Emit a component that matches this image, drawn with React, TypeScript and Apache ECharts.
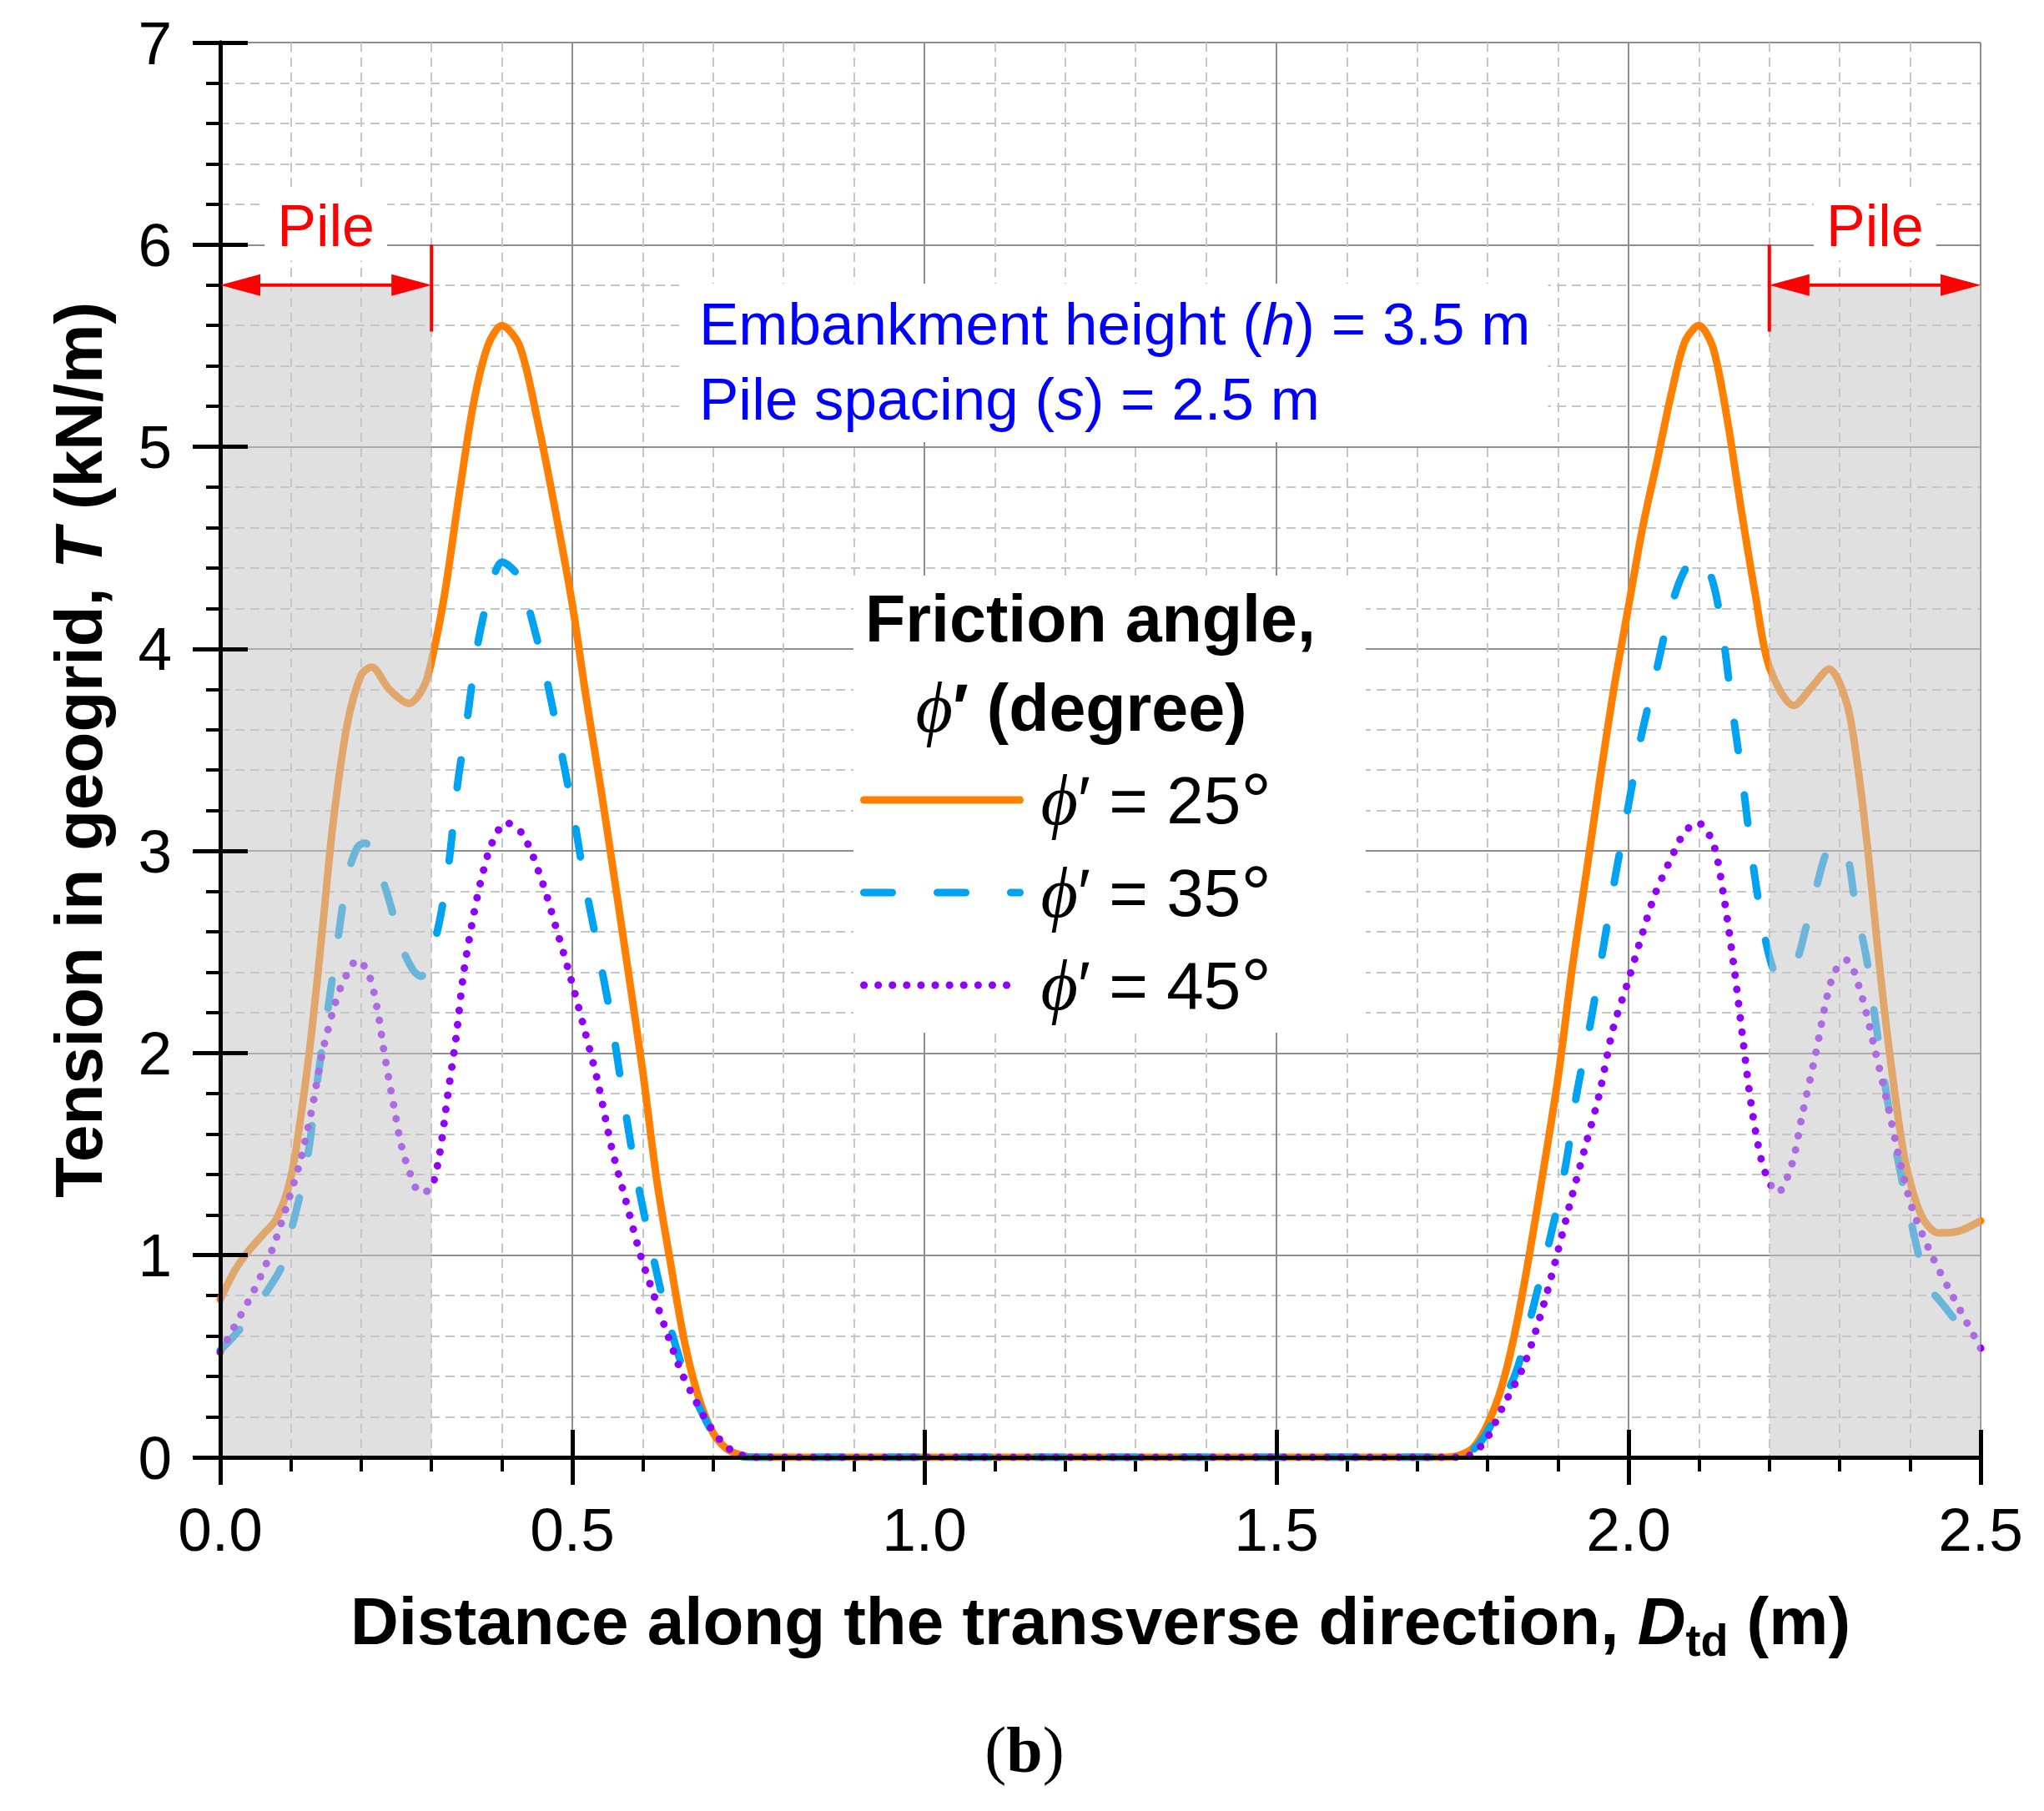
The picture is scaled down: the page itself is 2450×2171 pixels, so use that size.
import React, { useEffect, useRef } from "react";
import * as echarts from "echarts";

const SANS = '"Liberation Sans", Arial, Helvetica, sans-serif';
const SERIF = '"Liberation Serif", "Times New Roman", serif';

// ---------------- data ----------------
const X_TICK_LABELS = ["0.0", "0.5", "1.0", "1.5", "2.0", "2.5"];
const Y_TICK_LABELS = ["0", "1", "2", "3", "4", "5", "6", "7"];
const SERIES_NAMES = ["ϕ′ = 25°", "ϕ′ = 35°", "ϕ′ = 45°"];
const SERIES_COLORS = ["#ff8000", "#00a2f2", "#8f00ff"];

// phi' = 25 deg
const X25 = [0, 0.02, 0.04, 0.06, 0.08, 0.1, 0.115, 0.13, 0.145, 0.16, 0.18, 0.2, 0.215, 0.24, 0.268, 0.29, 0.305, 0.32, 0.34, 0.36, 0.38, 0.4, 0.425, 0.45, 0.475, 0.5, 0.52, 0.54, 0.56, 0.58, 0.6, 0.62, 0.64, 0.66, 0.68, 0.7, 0.72, 0.74, 0.76, 1.0, 1.25, 1.5, 1.74, 1.76, 1.78, 1.8, 1.82, 1.84, 1.86, 1.88, 1.9, 1.92, 1.94, 1.96, 1.98, 2.0, 2.02, 2.04, 2.06, 2.08, 2.1, 2.12, 2.14, 2.16, 2.18, 2.2, 2.235, 2.26, 2.285, 2.31, 2.325, 2.34, 2.355, 2.37, 2.39, 2.405, 2.42, 2.44, 2.47, 2.5];
const T25 = [0.78, 0.92, 1.02, 1.1, 1.18, 1.38, 1.7, 2.11, 2.61, 3.13, 3.62, 3.87, 3.91, 3.8, 3.73, 3.82, 4.02, 4.3, 4.78, 5.22, 5.5, 5.6, 5.5, 5.14, 4.7, 4.22, 3.75, 3.32, 2.86, 2.39, 1.91, 1.37, 0.95, 0.56, 0.29, 0.12, 0.04, 0.01, 0, 0, 0, 0, 0, 0.01, 0.05, 0.165, 0.35, 0.64, 1.02, 1.44, 1.88, 2.42, 2.89, 3.37, 3.82, 4.21, 4.6, 4.92, 5.25, 5.52, 5.6, 5.49, 5.14, 4.69, 4.27, 3.91, 3.72, 3.81, 3.9, 3.73, 3.43, 3.0, 2.48, 2.02, 1.52, 1.3, 1.17, 1.11, 1.12, 1.17];

// phi' = 35 deg
const X35 = [0, 0.027, 0.062, 0.088, 0.102, 0.114, 0.126, 0.139, 0.153, 0.169, 0.181, 0.195, 0.205, 0.228, 0.242, 0.256, 0.274, 0.285, 0.301, 0.313, 0.325, 0.337, 0.351, 0.366, 0.386, 0.4, 0.426, 0.437, 0.461, 0.481, 0.501, 0.517, 0.536, 0.556, 0.572, 0.588, 0.607, 0.631, 0.659, 0.69, 0.714, 0.75, 1.0, 1.25, 1.5, 1.75, 1.78, 1.8, 1.84, 1.863, 1.891, 1.911, 1.926, 1.946, 1.966, 1.982, 1.998, 2.017, 2.037, 2.06, 2.077, 2.096, 2.116, 2.131, 2.148, 2.164, 2.175, 2.191, 2.207, 2.219, 2.238, 2.254, 2.266, 2.282, 2.296, 2.311, 2.321, 2.339, 2.349, 2.363, 2.381, 2.401, 2.424, 2.448, 2.48, 2.5];
const T35 = [0.53, 0.63, 0.8, 0.95, 1.14, 1.31, 1.53, 1.89, 2.22, 2.61, 2.88, 3.02, 3.04, 2.88, 2.73, 2.54, 2.41, 2.38, 2.51, 2.68, 2.95, 3.33, 3.66, 4.03, 4.33, 4.43, 4.35, 4.22, 3.89, 3.55, 3.19, 2.86, 2.52, 2.15, 1.79, 1.45, 1.12, 0.75, 0.42, 0.18, 0.05, 0, 0, 0, 0, 0, 0.04, 0.13, 0.42, 0.72, 1.12, 1.45, 1.79, 2.15, 2.56, 2.89, 3.19, 3.55, 3.85, 4.2, 4.37, 4.46, 4.37, 4.14, 3.69, 3.29, 2.98, 2.62, 2.4, 2.37, 2.45, 2.65, 2.81, 3.0, 3.04, 2.97, 2.76, 2.45, 2.2, 1.87, 1.5, 1.17, 0.86, 0.75, 0.61, 0.54];

// phi' = 45 deg
const X45 = [0, 0.019, 0.047, 0.074, 0.094, 0.114, 0.13, 0.145, 0.161, 0.173, 0.195, 0.211, 0.224, 0.232, 0.24, 0.248, 0.256, 0.268, 0.284, 0.299, 0.311, 0.323, 0.335, 0.345, 0.357, 0.37, 0.386, 0.406, 0.43, 0.457, 0.477, 0.497, 0.517, 0.536, 0.556, 0.576, 0.596, 0.615, 0.635, 0.655, 0.675, 0.694, 0.714, 0.733, 0.76, 1.0, 1.25, 1.5, 1.76, 1.78, 1.8, 1.82, 1.852, 1.879, 1.899, 1.918, 1.938, 1.958, 1.978, 1.998, 2.017, 2.037, 2.06, 2.079, 2.098, 2.12, 2.135, 2.15, 2.162, 2.174, 2.188, 2.2, 2.212, 2.232, 2.247, 2.266, 2.282, 2.294, 2.31, 2.329, 2.349, 2.369, 2.385, 2.404, 2.432, 2.46, 2.5];
const T45 = [0.52, 0.64, 0.82, 1.03, 1.24, 1.47, 1.72, 2.0, 2.22, 2.34, 2.46, 2.39, 2.2, 2.02, 1.86, 1.71, 1.56, 1.42, 1.31, 1.33, 1.49, 1.79, 2.08, 2.38, 2.63, 2.85, 3.04, 3.14, 3.08, 2.85, 2.62, 2.38, 2.12, 1.86, 1.53, 1.27, 1.01, 0.81, 0.61, 0.42, 0.28, 0.16, 0.07, 0.02, 0, 0, 0, 0, 0, 0.02, 0.1, 0.24, 0.46, 0.75, 1.01, 1.27, 1.53, 1.79, 2.12, 2.34, 2.56, 2.78, 2.96, 3.09, 3.14, 3.04, 2.78, 2.42, 2.08, 1.75, 1.48, 1.36, 1.31, 1.45, 1.7, 2.0, 2.28, 2.41, 2.46, 2.31, 2.03, 1.73, 1.47, 1.22, 0.99, 0.8, 0.54];

// pile zones (m) and annotation levels (kN/m)
const PILE_ZONES = [
  [0, 0.3],
  [2.2, 2.5],
];
const PILE_TOP = 5.8;
const PILE_MARK_LOW = 5.57;
const PILE_MARK_HIGH = 6.0;
const PILE_LABEL_Y = 6.09;

// --------------------------------------
const pairs = (xs: number[], ys: number[]) => xs.map((x, i) => [x, ys[i]]);
const DASHES: any[] = ["solid", [34, 54], [0.1, 17]];

export default function App() {
  const ref = useRef<HTMLDivElement>(null);

  useEffect(() => {
    document.body.style.margin = "0";
    const chart = echarts.init(ref.current!, null, { renderer: "svg" });
    const black = { color: "#000", width: 5 };

    const boldRich = {
      b: { fontSize: 80, fontWeight: "bold", fontFamily: SANS, color: "#000", lineHeight: 100 },
      i: { fontSize: 80, fontWeight: "bold", fontStyle: "italic", fontFamily: SANS, color: "#000", lineHeight: 100 },
      sub: { fontSize: 54, fontWeight: "bold", fontFamily: SANS, color: "#000", lineHeight: 42, verticalAlign: "bottom" },
    };

    const xBase = { type: "value", min: 0, max: 2.5, interval: 0.5, gridIndex: 0 };
    const yBase = { type: "value", min: 0, max: 7, interval: 1, gridIndex: 0 };

    const lineSeries = [
      { x: X25, y: T25 },
      { x: X35, y: T35 },
      { x: X45, y: T45 },
    ].map((s, i) => ({
      type: "line",
      name: SERIES_NAMES[i],
      data: pairs(s.x, s.y),
      symbol: "none",
      showSymbol: false,
      smooth: 0.3,
      z: 2 + i * 0.1,
      lineStyle: { color: SERIES_COLORS[i], width: 9, type: DASHES[i], cap: "round", join: "round" },
      itemStyle: { color: SERIES_COLORS[i] },
    }));

    const option: any = {
      animation: false,
      backgroundColor: "#ffffff",
      textStyle: { fontFamily: SANS },
      grid: { left: 264, right: 76, top: 51, bottom: 424, containLabel: false, outerBoundsMode: "none" },
      xAxis: [
        {
          ...xBase,
          position: "bottom",
          axisLine: { show: false },
          axisTick: { show: true, inside: false, length: 33, lineStyle: black },
          minorTick: { show: true, splitNumber: 5, length: 17, lineStyle: { color: "#000", width: 4 } },
          axisLabel: {
            show: true,
            fontSize: 73,
            color: "#000",
            fontFamily: SANS,
            margin: 50,
            formatter: (v: number) => X_TICK_LABELS[Math.round(v / 0.5)] ?? "",
          },
          splitLine: { show: true, lineStyle: { color: "#8e8e8e", width: 2 } },
          minorSplitLine: { show: true, lineStyle: { color: "#c6c6c6", width: 2, type: [11, 7] } },
          name: "{b|Distance along the transverse direction, }{i|D}{sub|td}{b| (m)}",
          nameLocation: "middle",
          nameGap: 146,
          nameMoveOverlap: false,
          nameTextStyle: { fontSize: 80, fontWeight: "bold", color: "#000", fontFamily: SANS, lineHeight: 100, rich: boldRich },
        },
        {
          ...xBase,
          position: "bottom",
          z: 10,
          axisLine: { show: true, lineStyle: black },
          axisTick: { show: true, inside: true, length: 33, lineStyle: black },
          axisLabel: { show: false },
          splitLine: { show: false },
        },
        {
          ...xBase,
          position: "top",
          z: 10,
          axisLine: { show: true, lineStyle: black },
          axisTick: { show: false },
          axisLabel: { show: false },
          splitLine: { show: false },
        },
      ],
      yAxis: [
        {
          ...yBase,
          position: "left",
          axisLine: { show: false },
          axisTick: { show: true, inside: false, length: 33, lineStyle: black },
          minorTick: { show: true, splitNumber: 5, length: 17, lineStyle: { color: "#000", width: 4 } },
          axisLabel: {
            show: true,
            fontSize: 73,
            color: "#000",
            fontFamily: SANS,
            margin: 58,
            formatter: (v: number) => Y_TICK_LABELS[Math.round(v)] ?? "",
          },
          splitLine: { show: true, lineStyle: { color: "#8e8e8e", width: 2 } },
          minorSplitLine: { show: true, lineStyle: { color: "#c6c6c6", width: 2, type: [11, 7] } },
          name: "{b|Tension in geogrid, }{i|T}{b| (kN/m)}",
          nameLocation: "middle",
          nameGap: 120,
          nameMoveOverlap: false,
          nameTextStyle: { fontSize: 80, fontWeight: "bold", color: "#000", fontFamily: SANS, lineHeight: 100, rich: boldRich },
        },
        {
          ...yBase,
          position: "left",
          z: 10,
          axisLine: { show: true, lineStyle: black },
          axisTick: { show: true, inside: true, length: 33, lineStyle: black },
          axisLabel: { show: false },
          splitLine: { show: false },
        },
        {
          ...yBase,
          position: "right",
          z: 10,
          axisLine: { show: true, lineStyle: black },
          axisTick: { show: false },
          axisLabel: { show: false },
          splitLine: { show: false },
        },
      ],
      legend: {
        show: true,
        orient: "vertical",
        left: 1023,
        top: 690,
        backgroundColor: "#ffffff",
        padding: [224, 113, 10, 8],
        itemWidth: 187,
        itemHeight: 20,
        itemGap: 19,
        selectedMode: false,
        itemStyle: { opacity: 0, borderWidth: 0 },
        data: SERIES_NAMES.map((n, i) => ({
          name: n,
          itemStyle: { opacity: 0, borderWidth: 0 },
          lineStyle: {
            color: SERIES_COLORS[i],
            width: 9,
            type: DASHES[i],
            cap: "round",
          },
        })),
        formatter: (name: string) => `{phi|ϕ}{pr|′}{t|${name.slice(2, -1)}}{deg|°}`,
        textStyle: {
          fontSize: 80,
          color: "#000",
          fontFamily: SANS,
          lineHeight: 90,
          padding: [0, 0, 0, 20],
          rich: {
            phi: { fontSize: 86, fontStyle: "italic", fontFamily: SERIF, color: "#000", lineHeight: 90 },
            pr: { fontSize: 80, fontFamily: SANS, color: "#000", lineHeight: 90 },
            t: { fontSize: 80, fontFamily: SANS, color: "#000", lineHeight: 90 },
            deg: { fontSize: 92, fontFamily: SANS, color: "#000", lineHeight: 90, verticalAlign: "top" },
          },
        },
      },
      series: [
        ...lineSeries,
        {
          type: "line",
          name: "pile-shade",
          data: [[0, 0]],
          symbol: "none",
          silent: true,
          z: 5,
          lineStyle: { width: 0, opacity: 0 },
          markArea: {
            silent: true,
            z: 5,
            itemStyle: { color: "rgba(198,198,198,0.54)", borderWidth: 0 },
            data: PILE_ZONES.map(([a, b]) => [
              { xAxis: a, yAxis: 0 },
              { xAxis: b, yAxis: PILE_TOP },
            ]),
          },
        },
      ],
    };

    chart.setOption(option);

    const px = (x: number, y: number) =>
      chart.convertToPixel({ xAxisIndex: 0, yAxisIndex: 0 }, [x, y]) as number[];

    const red = "#ff0000";
    const graphics: any[] = [];
    PILE_ZONES.forEach(([a, b], i) => {
      const [xa, yy] = px(a, PILE_TOP);
      const [xb] = px(b, PILE_TOP);
      graphics.push({
        type: "line",
        z: 50,
        shape: { x1: xa + 20, y1: yy, x2: xb - 20, y2: yy },
        style: { stroke: red, lineWidth: 4 },
      });
      graphics.push({
        type: "polygon",
        z: 50,
        shape: { points: [[xa, yy], [xa + 48, yy - 13], [xa + 48, yy + 13]] },
        style: { fill: red },
      });
      graphics.push({
        type: "polygon",
        z: 50,
        shape: { points: [[xb, yy], [xb - 48, yy - 13], [xb - 48, yy + 13]] },
        style: { fill: red },
      });
      const markX = i === 0 ? b : a;
      const [mx, myLow] = px(markX, PILE_MARK_LOW);
      const [, myHigh] = px(markX, PILE_MARK_HIGH);
      graphics.push({
        type: "line",
        z: 50,
        shape: { x1: mx, y1: myLow, x2: mx, y2: myHigh },
        style: { stroke: red, lineWidth: 4 },
      });
      const [lx, ly] = px((a + b) / 2, PILE_LABEL_Y);
      graphics.push({
        type: "text",
        z: 50,
        x: lx,
        y: ly,
        style: {
          text: "Pile",
          fontSize: 70,
          fontFamily: SANS,
          fill: red,
          align: "center",
          verticalAlign: "middle",
          backgroundColor: "#ffffff",
          padding: [6, 15, 6, 15],
        },
      });
    });

    // annotation box
    const blueRich = {
      n: { fontSize: 71, fontFamily: SANS, fill: "#0000ff", lineHeight: 90 },
      i: { fontSize: 71, fontFamily: SANS, fontStyle: "italic", fill: "#0000ff", lineHeight: 90 },
    };
    graphics.push({
      type: "text",
      z: 50,
      x: 814,
      y: 340,
      style: {
        text: "{n|Embankment height (}{i|h}{n|) = 3.5 m}\n{n|Pile spacing (}{i|s}{n|) = 2.5 m}",
        rich: blueRich,
        fontSize: 71,
        fontFamily: SANS,
        fill: "#0000ff",
        align: "left",
        verticalAlign: "top",
        backgroundColor: "#ffffff",
        padding: [3, 21, 7, 24],
      },
    });

    // legend title
    graphics.push({
      type: "text",
      z: 50,
      x: 1307,
      y: 741,
      style: {
        text: "Friction angle,",
        fontSize: 79,
        fontWeight: "bold",
        fontFamily: SANS,
        fill: "#000",
        align: "center",
        verticalAlign: "middle",
      },
    });
    graphics.push({
      type: "text",
      z: 50,
      x: 1296,
      y: 848,
      style: {
        text: "{phi|ϕ}{pr|′}{b| (degree)}",
        rich: {
          phi: { fontSize: 86, fontStyle: "italic", fontFamily: SERIF, fill: "#000" },
          pr: { fontSize: 79, fontWeight: "bold", fontFamily: SANS, fill: "#000" },
          b: { fontSize: 79, fontWeight: "bold", fontFamily: SANS, fill: "#000" },
        },
        fontSize: 79,
        fill: "#000",
        align: "center",
        verticalAlign: "middle",
      },
    });

    // caption
    graphics.push({
      type: "text",
      z: 50,
      x: 1228,
      y: 2097,
      style: {
        text: "{p|(}{b|b}{p|)}",
        rich: {
          p: { fontSize: 78, fontFamily: SERIF, fill: "#000" },
          b: { fontSize: 78, fontWeight: "bold", fontFamily: SERIF, fill: "#000" },
        },
        fontSize: 78,
        fill: "#000",
        align: "center",
        verticalAlign: "middle",
      },
    });

    chart.setOption({ graphic: graphics });

    return () => {
      chart.dispose();
    };
  }, []);

  return <div ref={ref} style={{ width: 2450, height: 2171 }} />;
}
